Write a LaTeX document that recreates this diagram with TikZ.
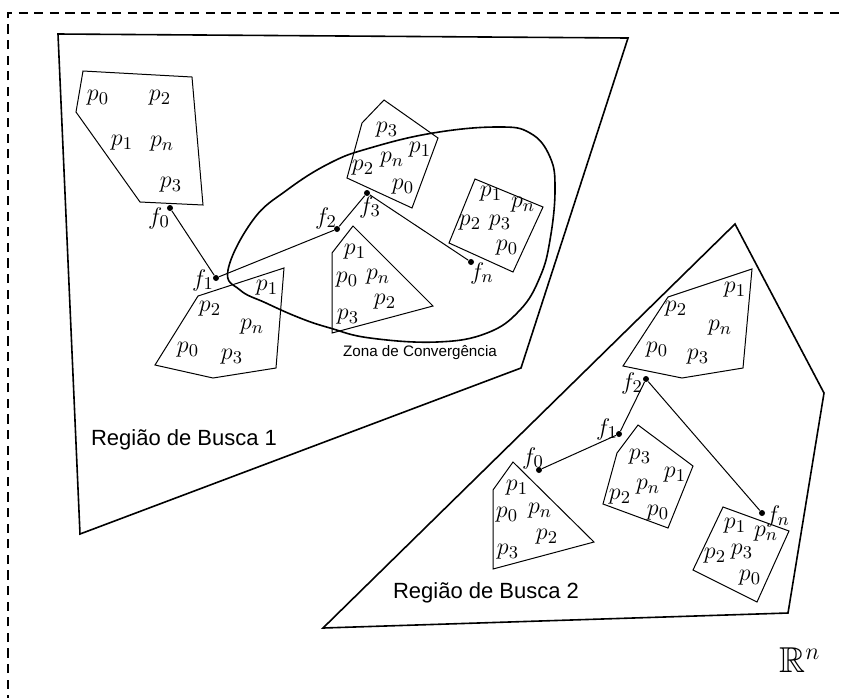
\documentclass[tikz,border=0pt]{standalone}
\usepackage{amssymb}
\usepackage[no-math]{fontspec}
\newfontfamily\labelsans{Liberation Sans}
\begin{document}
\begin{tikzpicture}[x=0.5pt,y=-0.5pt,
  region/.style={line width=0.8pt, line join=miter},
  cluster/.style={line width=0.5pt},
  zone/.style={line width=0.8pt},
  frame/.style={line width=1.3pt, dash pattern=on 4.6pt off 3.2pt},
  pl/.style={inner sep=0pt, font=\fontsize{12.5}{14}\selectfont},
  dot/.style={circle, fill, inner sep=0pt, minimum size=3pt},
  link/.style={line width=0.5pt},
  title/.style={inner sep=0pt, font=\labelsans\fontsize{11}{13}\selectfont},
  small/.style={inner sep=0pt, font=\labelsans\fontsize{7.6}{9}\selectfont},
]
\useasboundingbox (0,0) rectangle (845,697);

% dashed outer frame of R^n
\draw[frame] (8,720) -- (8,13) -- (870,13);

% search regions
\draw[region] (58,34) -- (628,38) -- (521,368) -- (80,534) -- cycle;
\draw[region] (735,224) -- (824,393) -- (788,613) -- (323,628) -- cycle;

% convergence zone
\draw[zone] plot[smooth cycle, tension=0.7] coordinates {
  (228,270) (253,220) (287,190) (330,163) (370,148) (433,133) (497,127)
  (530,133) (550,157) (555,190) (550,240) (540,277) (520,310) (487,333)
  (437,342) (370,338) (330,328) (300,318) (266,303) (240,290)};

% ---------- region 1 clusters ----------
\draw[cluster] (83,71) -- (192,77) -- (203,205) -- (140,202) -- (76,112) -- cycle;
\node[pl] (a0) at (98,98) {$p_0$};
\node[pl] (a2) at (160,98) {$p_2$};
\node[pl] (a1) at (122,143) {$p_1$};
\node[pl] (an) at (162,144) {$p_n$};
\node[pl] (a3) at (171,185) {$p_3$};

\draw[cluster] (198,296) -- (284,268) -- (276,368) -- (213,378) -- (155,365) -- cycle;
\node[pl] (b2) at (210,309) {$p_2$};
\node[pl] (b1) at (267,288) {$p_1$};
\node[pl] (bn) at (252,327) {$p_n$};
\node[pl] (b0) at (188,350) {$p_0$};
\node[pl] (b3) at (232,357) {$p_3$};

\draw[cluster] (384,100) -- (438,138) -- (412,208) -- (347,178) -- (362,123) -- cycle;
\node[pl] (c3) at (387,130) {$p_3$};
\node[pl] (c1) at (420,150) {$p_1$};
\node[pl] (c2) at (363,168) {$p_2$};
\node[pl] (cn) at (392,160) {$p_n$};
\node[pl] (c0) at (403,187) {$p_0$};

\draw[cluster] (475,179) -- (543,207) -- (513,272) -- (449,243) -- cycle;
\node[pl] (d1) at (491,194) {$p_1$};
\node[pl] (dn) at (523,205) {$p_n$};
\node[pl] (d2) at (470,223) {$p_2$};
\node[pl] (d3) at (500,223) {$p_3$};
\node[pl] (d0) at (507,248) {$p_0$};

\draw[cluster] (353,226) -- (433,306) -- (332,333) -- (332,253) -- cycle;
\node[pl] (e1) at (355,252) {$p_1$};
\node[pl] (e0) at (347,280) {$p_0$};
\node[pl] (en) at (378,277) {$p_n$};
\node[pl] (e2) at (385,302) {$p_2$};
\node[pl] (e3) at (348,317) {$p_3$};

% path of region 1
\node[dot] (f0) at (170,208) {};
\node[dot] (f1) at (216,278) {};
\node[dot] (f2) at (337,229) {};
\node[dot] (f3) at (367,193) {};
\node[dot] (fn) at (471,262) {};
\draw[link] (f0) -- (f1) -- (f2) -- (f3) -- (fn);
\node[pl] (lf0) at (159,218) {$f_0$};
\node[pl] (lf1) at (203,280) {$f_1$};
\node[pl] (lf2) at (326,218) {$f_2$};
\node[pl] (lf3) at (370,207) {$f_3$};
\node[pl] (lfn) at (482,273) {$f_n$};

% ---------- region 2 clusters ----------
\draw[cluster] (668,297) -- (752,269) -- (743,368) -- (682,378) -- (623,366) -- cycle;
\node[pl] (g2) at (676,309) {$p_2$};
\node[pl] (g1) at (735,290) {$p_1$};
\node[pl] (gn) at (720,328) {$p_n$};
\node[pl] (g0) at (657,350) {$p_0$};
\node[pl] (g3) at (698,357) {$p_3$};

\draw[cluster] (513,462) -- (594,542) -- (493,569) -- (493,490) -- cycle;
\node[pl] (h1) at (517,488) {$p_1$};
\node[pl] (h0) at (507,515) {$p_0$};
\node[pl] (hn) at (540,511) {$p_n$};
\node[pl] (h2) at (547,537) {$p_2$};
\node[pl] (h3) at (508,552) {$p_3$};

\draw[cluster] (638,425) -- (693,466) -- (668,528) -- (603,504) -- (617,453) -- cycle;
\node[pl] (k3) at (640,457) {$p_3$};
\node[pl] (k1) at (675,475) {$p_1$};
\node[pl] (kn) at (648,487) {$p_n$};
\node[pl] (k2) at (620,497) {$p_2$};
\node[pl] (k0) at (658,513) {$p_0$};

\draw[cluster] (723,507) -- (789,531) -- (757,602) -- (693,570) -- cycle;
\node[pl] (m1) at (735,526) {$p_1$};
\node[pl] (mn) at (766,534) {$p_n$};
\node[pl] (m2) at (715,556) {$p_2$};
\node[pl] (m3) at (742,552) {$p_3$};
\node[pl] (m0) at (750,578) {$p_0$};

% path of region 2
\node[dot] (q0) at (539,470) {};
\node[dot] (q1) at (619,434) {};
\node[dot] (q2) at (646,379) {};
\node[dot] (qn) at (762,513) {};
\draw[link] (q0) -- (q1) -- (q2) -- (qn);
\node[pl] (lq0) at (533,458) {$f_0$};
\node[pl] (lq1) at (607,429) {$f_1$};
\node[pl] (lq2) at (632,383) {$f_2$};
\node[pl] (lqn) at (778,516) {$f_n$};

% labels
\node[title] (r1) at (184,440) {Região de Busca 1};
\node[title] (r2) at (486,593) {Região de Busca 2};
\node[small] (zc) at (420,353) {Zona de Convergência};
\node[inner sep=0pt, font=\fontsize{18}{20}\selectfont] (rn) at (800,660) {$\mathbb{R}^n$};
\end{tikzpicture}
\end{document}
